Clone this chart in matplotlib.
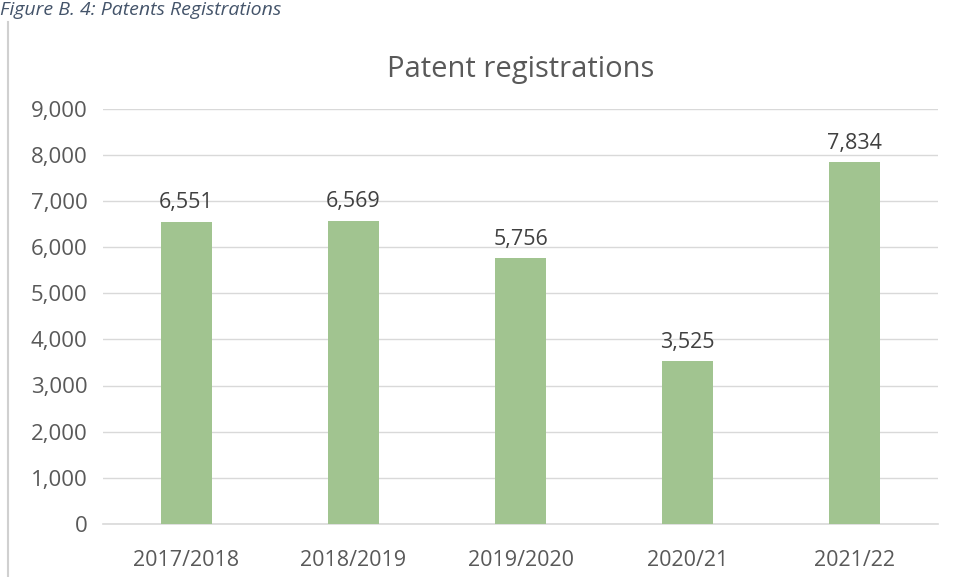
import matplotlib
matplotlib.use("Agg")
import matplotlib.pyplot as plt
from matplotlib.ticker import FuncFormatter, MultipleLocator

categories = ["2017/2018", "2018/2019", "2019/2020", "2020/21", "2021/22"]
values = [6551, 6569, 5756, 3525, 7834]
title = "Patent registrations"
caption = "Figure B. 4: Patents Registrations"

plt.rcParams['font.family'] = ['Open Sans', 'DejaVu Sans']

fig = plt.figure(figsize=(9.55, 5.77), dpi=100)
ax = fig.add_axes([103/955, 1-524/577, (938-103)/955, (524-108.5)/577])

x = list(range(len(categories)))
bars = ax.bar(x, values, width=0.31, color="#A1C490", zorder=3)
ax.set_xlim(-0.5, len(categories) - 0.5)
ax.set_ylim(0, 9000)
ax.yaxis.set_major_locator(MultipleLocator(1000))
ax.yaxis.set_major_formatter(FuncFormatter(lambda v, p: f"{int(v):,}"))
ax.set_xticks(x)
ax.set_xticklabels(categories)
ax.grid(axis='y', color="#D9D9D9", linewidth=1, zorder=0)
for s in ["top", "right", "left"]:
    ax.spines[s].set_visible(False)
ax.spines["bottom"].set_color("#D9D9D9")
ax.spines["bottom"].set_linewidth(1.2)
ax.tick_params(axis='both', length=0, labelsize=15.5, colors="#595959")
ax.tick_params(axis='x', pad=19)
ax.tick_params(axis='y', pad=11)
for lbl in ax.get_yticklabels():
    lbl.set_fontsize(16)

for xi, v in zip(x, values):
    ax.annotate(f"{v:,}", (xi, v), xytext=(0, 6), textcoords="offset points",
                ha="center", va="bottom", fontsize=15.5, color="#404040")

fig.text(521/955, 1-69/577, title, ha="center", va="center", fontsize=21, color="#595959")
fig.text(0.0, 1-15/577, caption, ha="left", va="baseline", fontsize=14,
         style="italic", color="#44546A")
fig.add_artist(plt.Line2D([8/955, 8/955], [0, 1-22/577], color="#D0D0D0", linewidth=1.5,
                          transform=fig.transFigure))

fig.savefig("out.png", dpi=100)
